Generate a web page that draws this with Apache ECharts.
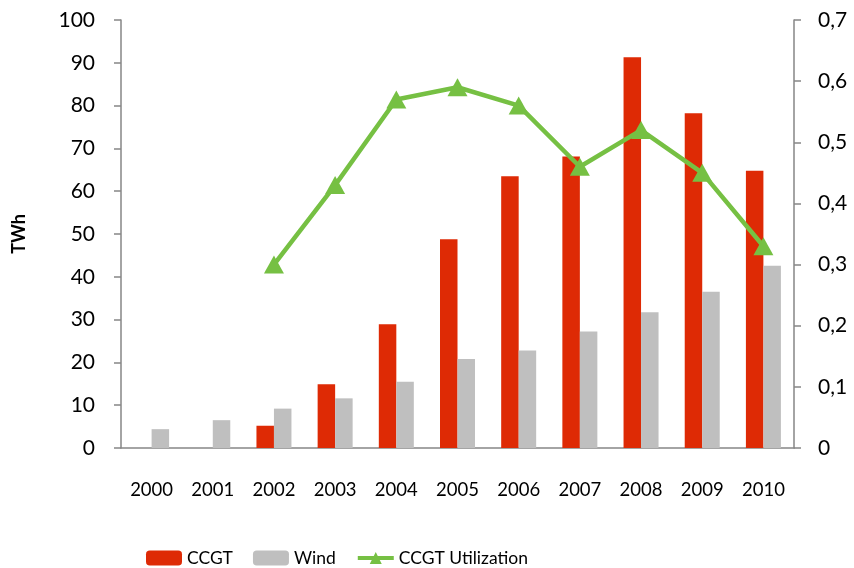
<!DOCTYPE html>
<html>
<head>
<meta charset="utf-8">
<script src="https://cdn.jsdelivr.net/npm/echarts@6/dist/echarts.min.js"></script>
<style>html,body{margin:0;padding:0;background:#fff;}#c{width:854px;height:568px;}</style>
</head>
<body>
<div id="c"></div>
<script>
const years = ['2000','2001','2002','2003','2004','2005','2006','2007','2008','2009','2010'];
const ccgt = [null, null, 5.2, 14.9, 28.9, 48.8, 63.5, 68.1, 91.3, 78.2, 64.8];
const wind = [4.4, 6.5, 9.2, 11.6, 15.5, 20.8, 22.8, 27.2, 31.7, 36.5, 42.6];
const utilization = [null, null, 0.30, 0.43, 0.57, 0.59, 0.56, 0.46, 0.52, 0.45, 0.33];
const leftTicks = {min: 0, max: 100, interval: 10};
const rightTicks = {min: 0, max: 0.7, interval: 0.1};

const axisColor = '#868686';
const green = '#76c043';
const font = 'Lato, "Open Sans", sans-serif';
const chart = echarts.init(document.getElementById('c'), null, {renderer: 'canvas'});
chart.setOption({
  animation: false,
  textStyle: {fontFamily: font},
  grid: {left: 121, right: 60, top: 20, bottom: 120},
  legend: {
    left: 146, top: 549, itemWidth: 36, itemHeight: 15, itemGap: 20, itemTextGap: 4,
    padding: 0,
    textStyle: {fontFamily: font, fontSize: 17.5, color: '#000'},
    data: ['CCGT', 'Wind', {name: 'CCGT Utilization', itemStyle: {color: green},
      lineStyle: {color: green, width: 4}}]
  },
  xAxis: {
    type: 'category', data: years, boundaryGap: true,
    axisLine: {lineStyle: {color: axisColor, width: 1.5}},
    axisTick: {length: 8, lineStyle: {color: axisColor, width: 1.5}},
    axisLabel: {color: '#000', fontSize: 18.5, fontFamily: font, margin: 33}
  },
  yAxis: [
    {
      type: 'value', min: leftTicks.min, max: leftTicks.max, interval: leftTicks.interval,
      name: 'TWh', nameLocation: 'middle', nameGap: 93, nameRotate: 90,
      nameTextStyle: {fontWeight: 'bold', fontSize: 18, color: '#000', fontFamily: font},
      axisLine: {show: true, lineStyle: {color: axisColor, width: 1.5}},
      axisTick: {show: true, length: 7, lineStyle: {color: axisColor, width: 1.5}},
      axisLabel: {color: '#000', fontSize: 21, fontFamily: font, margin: 26},
      splitLine: {show: false}
    },
    {
      type: 'value', min: rightTicks.min, max: rightTicks.max, interval: rightTicks.interval,
      position: 'right',
      axisLine: {show: true, lineStyle: {color: axisColor, width: 1.5}},
      axisTick: {show: true, length: 7, lineStyle: {color: axisColor, width: 1.5}},
      axisLabel: {color: '#000', fontSize: 21, fontFamily: font, margin: 24,
        formatter: v => v === 0 ? '0' : v.toFixed(1).replace('.', ',')},
      splitLine: {show: false}
    }
  ],
  series: [
    {name: 'CCGT', type: 'bar', data: ccgt, barWidth: 17.5, barGap: '0%',
      itemStyle: {color: '#de2a05'}},
    {name: 'Wind', type: 'bar', data: wind, barWidth: 17.5, barGap: '0%',
      itemStyle: {color: '#bfbfbf'}},
    {name: 'CCGT Utilization', type: 'line', yAxisIndex: 1, data: utilization,
      symbol: 'triangle', symbolSize: [20, 18], z: 5,
      lineStyle: {color: green, width: 4.5},
      itemStyle: {color: green}}
  ]
});
</script>
</body>
</html>
